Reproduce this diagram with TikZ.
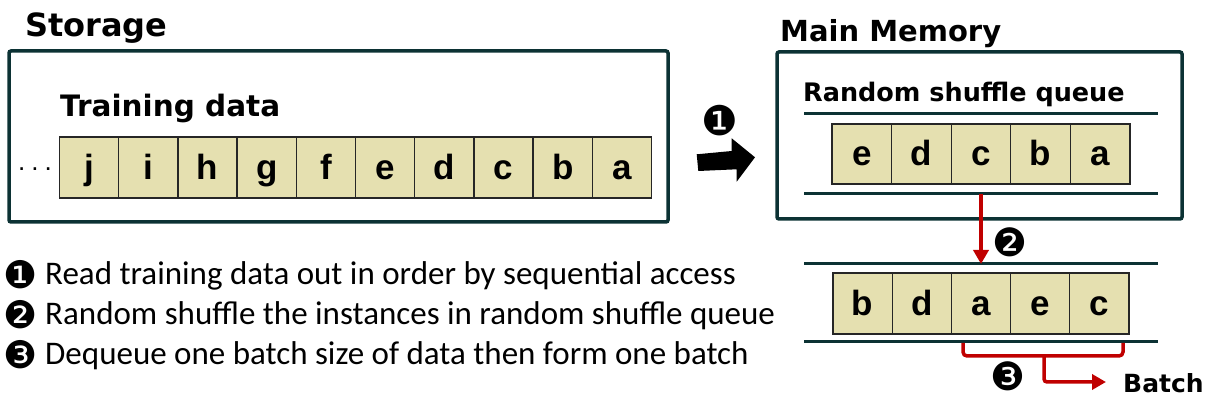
\documentclass[tikz,border=0pt]{standalone}
\usepackage{fontspec}
\setmainfont{Carlito}
\newfontfamily\titlefont{DejaVu Sans}
\newfontfamily\cellfont{Liberation Sans}
\newfontfamily\symfont{DejaVu Sans}
\usetikzlibrary{arrows.meta}
\definecolor{boxc}{RGB}{12,50,52}
\definecolor{cellc}{RGB}{229,224,176}
\definecolor{redc}{RGB}{192,0,0}
\tikzset{
  frame/.style={draw=boxc, line width=3.5pt, rounded corners=2pt},
  cellbox/.style={draw=black!85, line width=1.3pt, fill=cellc, inner sep=0pt},
  celltext/.style={font=\cellfont\bfseries\fontsize{35}{35}\selectfont, anchor=base, inner sep=0pt},
  titletext/.style={font=\titlefont\bfseries\fontsize{#1}{#1}\selectfont, anchor=base west, inner sep=0pt},
  qline/.style={draw=boxc, line width=3pt},
  redline/.style={draw=redc, line width=3.5pt},
  redarrow/.style={redline, -{Triangle[width=15pt,length=14pt]}},
  numtext/.style={font=\symfont\fontsize{#1}{#1}\selectfont, inner sep=0pt},
  itemtext/.style={font=\fontsize{33}{33}\selectfont, anchor=base west, inner sep=0pt},
}
\begin{document}
\begin{tikzpicture}[x=1pt, y=-1pt]
\useasboundingbox (0,0) rectangle (1211,403);

% Storage
\node[titletext=32] (storage) at (25,37) {Storage};
\draw[frame] (9,51) rectangle (668,222);
\node[titletext=29.5] (train) at (60,117) {Training data};
\node[font=\cellfont\fontsize{26}{26}\selectfont, anchor=base, inner sep=0pt] (dots) at (35,171) {.\hspace{6pt}.\hspace{6pt}.};
\foreach \l [count=\i] in {j,i,h,g,f,e,d,c,b,a} {
  \node[cellbox, minimum width=59.2pt, minimum height=61pt] (s\i) at ({59.5+29.6+59.2*(\i-1)},167.5) {};
  \node[celltext] at ([yshift=-12pt]s\i.center) {\l};
}

% Arrow 1
\fill[black] (696.7,154.3) -- (731.7,151) -- (731.7,138.3) -- (755,157.3) -- (736.7,181.7) -- (736.7,169.3) -- (698.3,171) -- cycle;
\node[numtext=41] (n1) at (720,121) {❶};

% Main memory
\node[titletext=29] (mm) at (780,42) {Main Memory};
\draw[frame] (777,52) rectangle (1182,219);
\node[titletext=25.5] (rsq) at (803,102) {Random shuffle queue};
\draw[qline] (804,114) -- (1158,114);
\draw[qline] (804,194) -- (1158,194);
\foreach \l [count=\i] in {e,d,c,b,a} {
  \node[cellbox, minimum width=59.6pt, minimum height=60pt] (q\i) at ({832+29.8+59.6*(\i-1)},154) {};
  \node[celltext] at ([yshift=-12pt]q\i.center) {\l};
}

% shuffled queue
\draw[qline] (804,264) -- (1158,264);
\draw[qline] (804,342) -- (1158,342);
\foreach \l [count=\i] in {b,d,a,e,c} {
  \node[cellbox, minimum width=59.2pt, minimum height=61pt] (r\i) at ({833+29.6+59.2*(\i-1)},303.5) {};
  \node[celltext] at ([yshift=-12pt]r\i.center) {\l};
}

% step 2
\coordinate (qout) at (981,194);
\coordinate (rin) at (981,264);
\draw[redarrow] (qout) -- (rin);
\node[numtext=39] (n2) at (1010,242) {❷};

% step 3
\coordinate (bl) at (963,343);
\coordinate (br) at (1123,343);
\coordinate (bm) at (1044,356);
\node[titletext=25] (batch) at (1123,392) {Batch};
\coordinate (bt) at (1106,382);
\draw[redline, rounded corners=4pt] (bl) -- (963,356) -- (1123,356) -- (br);
\draw[redarrow, rounded corners=3pt] (bm) -- (1044,382) -- (bt);
\node[numtext=39] (n3) at (1008,376) {❸};

% legend
\node[numtext=38] (l1n) at (21,275) {❶};
\node[itemtext] (l1) at (45,285) {Read training data out in order by sequential access};
\node[numtext=38] (l2n) at (21,315) {❷};
\node[itemtext] (l2) at (45,325) {Random shuffle the instances in random shuffle queue};
\node[numtext=38] (l3n) at (21,355) {❸};
\node[itemtext] (l3) at (45,365) {Dequeue one batch size of data then form one batch};
\end{tikzpicture}
\end{document}
